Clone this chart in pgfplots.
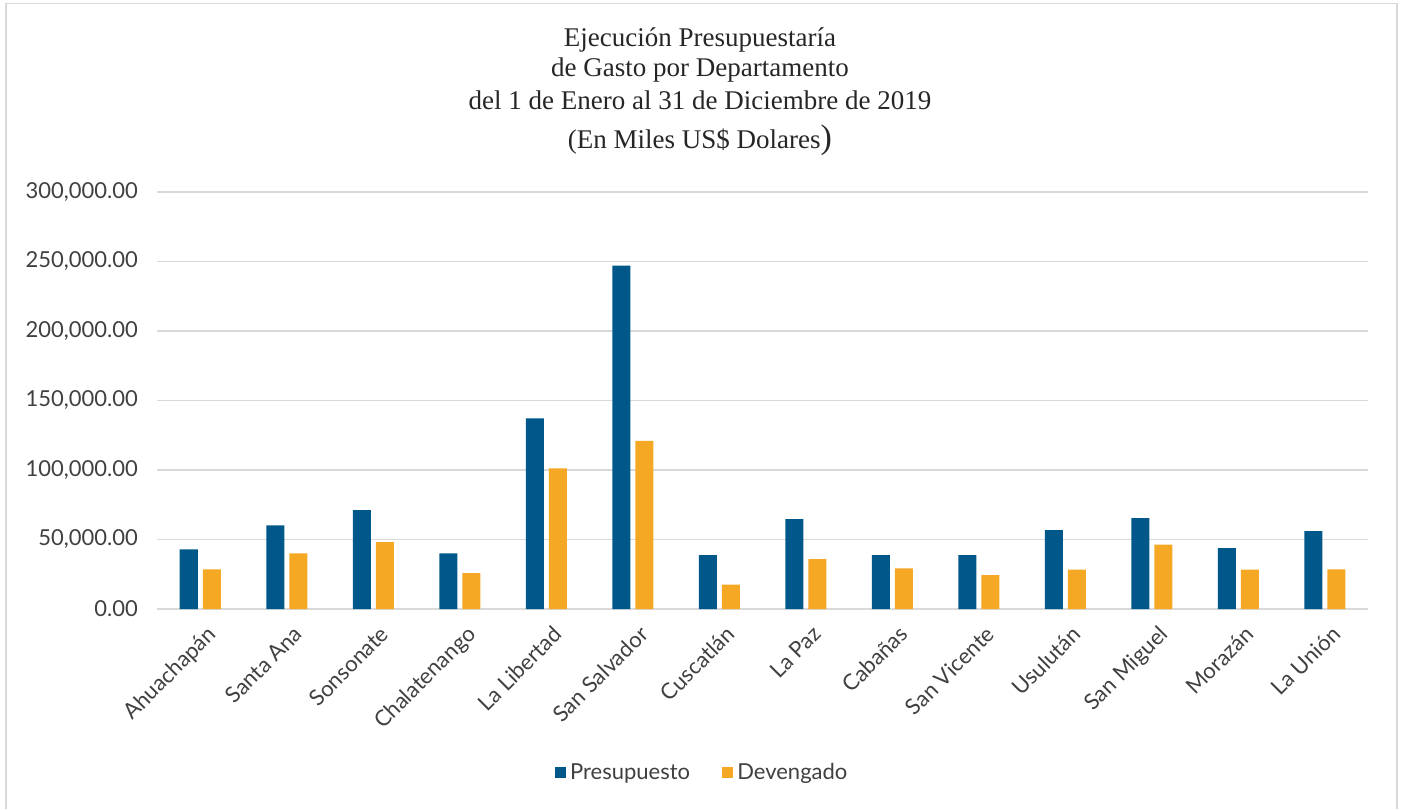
\documentclass[border=0pt]{standalone}
\usepackage{fontspec}
\setmainfont{Lato}
\newfontfamily\titlefont{Liberation Serif}
\usepackage{pgfplots}
\pgfplotsset{compat=1.18}
\definecolor{presup}{RGB}{0,87,138}
\definecolor{deveng}{RGB}{245,168,35}
\definecolor{gridc}{RGB}{217,217,217}
\definecolor{txt}{RGB}{64,64,64}
\begin{document}
\begin{tikzpicture}
\path[use as bounding box] (-78.5pt,-100pt) rectangle (624.5pt,304.5pt);
\begin{axis}[
  scale only axis,
  width=605.5pt, height=208.5pt,
  ybar=2.5pt, bar width=9pt,
  xmin=-0.5, xmax=13.5,
  ymin=0, ymax=300000,
  ytick={0,50000,100000,150000,200000,250000,300000},
  scaled y ticks=false,
  yticklabel style={/pgf/number format/fixed, /pgf/number format/fixed zerofill,
    /pgf/number format/precision=2, /pgf/number format/1000 sep={,},
    /pgf/number format/assume math mode=true,
    font=\fontsize{11}{13}\selectfont, text=txt, anchor=east, xshift=-6pt},
  xtick=data,
  xticklabels={Ahuachapán,Santa Ana,Sonsonate,Chalatenango,La Libertad,San Salvador,Cuscatlán,La Paz,Cabañas,San Vicente,Usulután,San Miguel,Morazán,La Unión},
  xticklabel style={rotate=45, anchor=north east, font=\fontsize{11}{13}\selectfont, text=txt, yshift=-4pt},
  axis x line*=bottom, axis y line*=left,
  y axis line style={draw=none},
  x axis line style={draw=gridc, line width=0.9pt, -},
  major tick length=0pt,
  ymajorgrids, grid style={gridc, line width=0.75pt},
  legend style={at={(0.451,-0.393)}, anchor=center, draw=none, legend columns=2,
    font=\fontsize{11}{13}\selectfont, text=txt,
    /tikz/every even column/.append style={column sep=14pt}},
  legend cell align=left,
]
\addplot[fill=presup, draw=none, legend image code/.code={\fill[presup] (0pt,-2.8pt) rectangle (5.6pt,2.8pt);}]
  coordinates {(0,42900) (1,60100) (2,71100) (3,40000) (4,137200) (5,247100) (6,38800) (7,64700) (8,38700) (9,38700) (10,56700) (11,65400) (12,43800) (13,56000)};
\addplot[fill=deveng, draw=none, legend image code/.code={\fill[deveng] (0pt,-2.8pt) rectangle (5.6pt,2.8pt);}]
  coordinates {(0,28500) (1,40000) (2,48100) (3,25900) (4,101100) (5,120900) (6,17500) (7,35800) (8,29300) (9,24300) (10,28400) (11,46400) (12,28400) (13,28600)};
\legend{Presupuesto,Devengado}
\end{axis}
\begin{scope}[font=\titlefont\fontsize{13.5}{15}\selectfont, text=black!85]
\node at (271.5pt,284.5pt) {Ejecución Presupuestaría};
\node at (271.5pt,269.5pt) {de Gasto por Departamento};
\node at (271.5pt,254.5pt) {del 1 de Enero al 31 de Diciembre de 2019};
\node at (271.5pt,234.5pt) {(En Miles US\$ Dolares{\fontsize{17}{17}\selectfont)}};
\end{scope}
\draw[gridc, line width=0.9pt] (-75.5pt,302.75pt) -- (-75.5pt,-100pt) (620pt,302.75pt) -- (620pt,-100pt) (-75.5pt,302.75pt) -- (620pt,302.75pt);
\end{tikzpicture}
\end{document}
